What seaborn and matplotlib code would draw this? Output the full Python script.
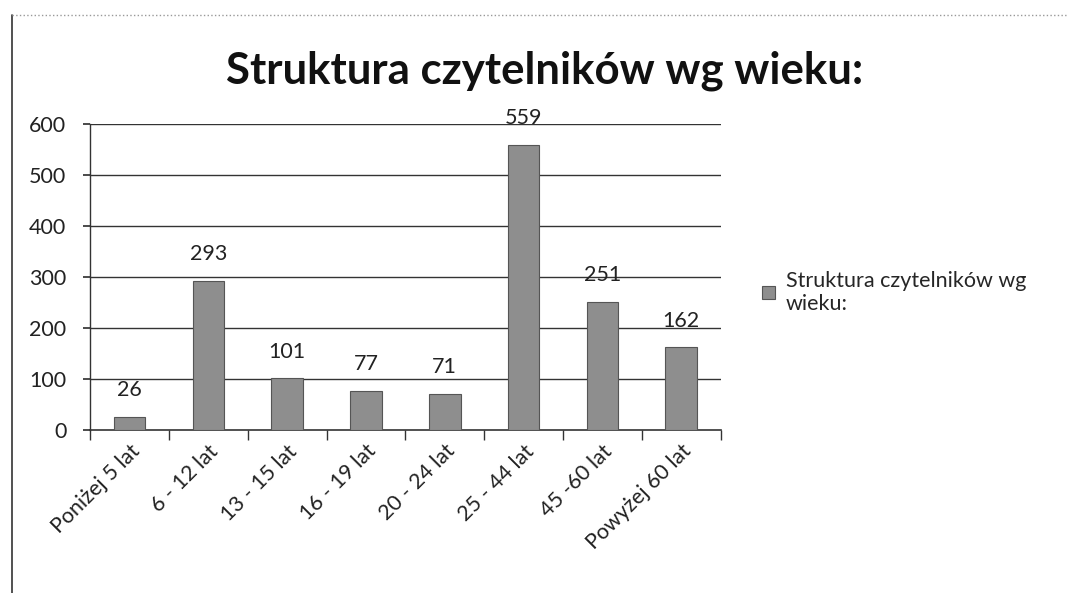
import matplotlib
matplotlib.use("Agg")
import matplotlib.pyplot as plt
import seaborn as sns
import pandas as pd
from matplotlib.lines import Line2D

categories = ["Poniżej 5 lat", "6 - 12 lat", "13 - 15 lat", "16 - 19 lat",
              "20 - 24 lat", "25 - 44 lat", "45 -60 lat", "Powyżej 60 lat"]
values = [26, 293, 101, 77, 71, 559, 251, 162]
series_name = "Struktura czytelników wg wieku:"
yticks = [0, 100, 200, 300, 400, 500, 600]

sns.set_theme(style="white")
plt.rcParams['font.family'] = ['Lato', 'DejaVu Sans']

df = pd.DataFrame({"cat": categories, "val": values})

fig = plt.figure(figsize=(10.67, 5.93), dpi=100)
ax = fig.add_axes([0.0844, 0.275, 0.591, 0.516])

sns.barplot(data=df, x="cat", y="val", color="#8e8e8e", width=0.4,
            edgecolor="#555555", linewidth=0.8, saturation=1,
            label=series_name.replace("wg ", "wg\n"), ax=ax, zorder=3)

ax.set_ylim(0, 600)
ax.set_xlim(-0.5, len(categories) - 0.5)
ax.set_yticks(yticks)
ax.set_yticklabels([str(t) for t in yticks], fontsize=15.5, color="#222222")
for t in yticks[1:]:
    ax.axhline(t, color="#333333", linewidth=1.0, zorder=1)

ax.set_xticks(range(len(categories)))
ax.set_xticklabels(categories, rotation=45, ha="right", rotation_mode="anchor",
                   fontsize=15.5, color="#222222")
ax.tick_params(axis="x", length=0, pad=8)
ax.tick_params(axis="y", length=5, direction="out", color="#333333", left=True, pad=12)
ax.set_xticks([i - 0.5 for i in range(len(categories) + 1)], minor=True)
ax.tick_params(axis="x", which="minor", length=7, direction="out", color="#333333", bottom=True)
ax.set_xlabel("")
ax.set_ylabel("")

for s in ["top", "right"]:
    ax.spines[s].set_visible(False)
ax.spines["left"].set_color("#333333")
ax.spines["bottom"].set_color("#333333")
ax.spines["left"].set_linewidth(1.0)
ax.spines["bottom"].set_linewidth(1.2)

for c in ax.containers:
    ax.bar_label(c, labels=[str(v) for v in values], padding=12, fontsize=15.5, color="#222222")

fig.text(0.51, 0.88, series_name, ha="center", va="center", fontsize=31.5,
         fontweight="bold", color="#111111")

leg = ax.legend(loc="center left", bbox_to_anchor=(1.035, 0.45), frameon=False,
                fontsize=15.5, handlelength=0.6, handleheight=0.6, handletextpad=0.5)

fig.add_artist(Line2D([0.011, 0.011], [0.0, 0.975], color="#333333", linewidth=1.2))
fig.add_artist(Line2D([0.011, 1.0], [0.975, 0.975], color="#999999", linewidth=1.0, linestyle=":"))

fig.savefig("out.png", dpi=100, facecolor="white")
